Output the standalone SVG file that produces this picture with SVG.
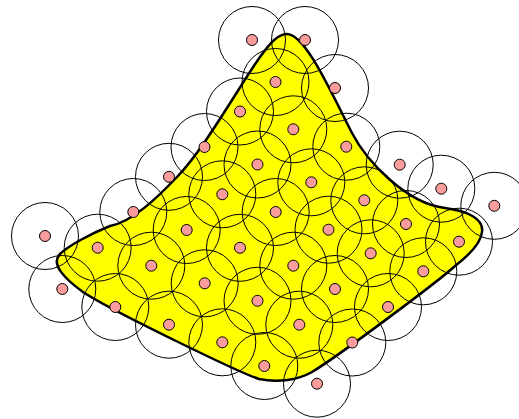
<svg xmlns="http://www.w3.org/2000/svg" width="519" height="419" viewBox="0 0 519 419">
<style>
.region{fill:#ffff00;stroke:#000;stroke-width:2.5;stroke-linejoin:round}
.c{fill:none;stroke:#000;stroke-width:1}
.d{fill:#fa9c9c;stroke:#000;stroke-width:1}
</style>
<rect width="519" height="419" fill="#fff"/>
<g id="region">
<path class="region" d="M287,34 C305,34 330,90 352,133 C366,160 405,203 445,208 C468,211 484,219 482,232 C481,244 468,256 455,266 C440,280 340,355 312,372 C298,380 278,383 259,379 C240,373 110,310 83,292 C65,279 50,264 60,254 C68,246 90,234 110,226 C132,222 157,198 177,177 C205,148 240,85 260,57 C270,43 278,34 287,34 Z"/>
</g>
<g id="connectors"></g>
<g id="circles">
<circle class="c" cx="252" cy="40" r="33.5"/>
<circle class="c" cx="305" cy="40" r="33.5"/>
<circle class="c" cx="275.5" cy="82" r="33.5"/>
<circle class="c" cx="335" cy="88" r="33.5"/>
<circle class="c" cx="240" cy="111.5" r="33.5"/>
<circle class="c" cx="293.3" cy="129.3" r="33.5"/>
<circle class="c" cx="204.5" cy="147" r="33.5"/>
<circle class="c" cx="257.5" cy="164.5" r="33.5"/>
<circle class="c" cx="346.3" cy="146.7" r="33.5"/>
<circle class="c" cx="169" cy="176.8" r="33.5"/>
<circle class="c" cx="222.3" cy="194.3" r="33.5"/>
<circle class="c" cx="311.3" cy="182.3" r="33.5"/>
<circle class="c" cx="399.7" cy="164.7" r="33.5"/>
<circle class="c" cx="441.3" cy="188.7" r="33.5"/>
<circle class="c" cx="133.3" cy="212" r="33.5"/>
<circle class="c" cx="186.7" cy="230" r="33.5"/>
<circle class="c" cx="275.7" cy="212" r="33.5"/>
<circle class="c" cx="364.3" cy="200.3" r="33.5"/>
<circle class="c" cx="494.3" cy="205.8" r="33.5"/>
<circle class="c" cx="45" cy="236" r="33.5"/>
<circle class="c" cx="97.7" cy="247.7" r="33.5"/>
<circle class="c" cx="151.3" cy="265.7" r="33.5"/>
<circle class="c" cx="240" cy="247.8" r="33.5"/>
<circle class="c" cx="328.5" cy="229.7" r="33.5"/>
<circle class="c" cx="406" cy="224" r="33.5"/>
<circle class="c" cx="459" cy="241.7" r="33.5"/>
<circle class="c" cx="62.3" cy="289" r="33.5"/>
<circle class="c" cx="204.7" cy="283.3" r="33.5"/>
<circle class="c" cx="293.3" cy="265.7" r="33.5"/>
<circle class="c" cx="370.7" cy="253.3" r="33.5"/>
<circle class="c" cx="115.3" cy="307" r="33.5"/>
<circle class="c" cx="257.5" cy="300.8" r="33.5"/>
<circle class="c" cx="423.3" cy="271.3" r="33.5"/>
<circle class="c" cx="169" cy="324.7" r="33.5"/>
<circle class="c" cx="335" cy="289" r="33.5"/>
<circle class="c" cx="222.3" cy="342.3" r="33.5"/>
<circle class="c" cx="299.3" cy="324.7" r="33.5"/>
<circle class="c" cx="388" cy="307" r="33.5"/>
<circle class="c" cx="264.3" cy="366" r="33.5"/>
<circle class="c" cx="352.3" cy="342.5" r="33.5"/>
<circle class="c" cx="317" cy="383.7" r="33.5"/>
</g>
<g id="dots">
<circle class="d" cx="252" cy="40" r="5.5"/>
<circle class="d" cx="305" cy="40" r="5.5"/>
<circle class="d" cx="275.5" cy="82" r="5.5"/>
<circle class="d" cx="335" cy="88" r="5.5"/>
<circle class="d" cx="240" cy="111.5" r="5.5"/>
<circle class="d" cx="293.3" cy="129.3" r="5.5"/>
<circle class="d" cx="204.5" cy="147" r="5.5"/>
<circle class="d" cx="257.5" cy="164.5" r="5.5"/>
<circle class="d" cx="346.3" cy="146.7" r="5.5"/>
<circle class="d" cx="169" cy="176.8" r="5.5"/>
<circle class="d" cx="222.3" cy="194.3" r="5.5"/>
<circle class="d" cx="311.3" cy="182.3" r="5.5"/>
<circle class="d" cx="399.7" cy="164.7" r="5.5"/>
<circle class="d" cx="441.3" cy="188.7" r="5.5"/>
<circle class="d" cx="133.3" cy="212" r="5.5"/>
<circle class="d" cx="186.7" cy="230" r="5.5"/>
<circle class="d" cx="275.7" cy="212" r="5.5"/>
<circle class="d" cx="364.3" cy="200.3" r="5.5"/>
<circle class="d" cx="494.3" cy="205.8" r="5.5"/>
<circle class="d" cx="45" cy="236" r="5.5"/>
<circle class="d" cx="97.7" cy="247.7" r="5.5"/>
<circle class="d" cx="151.3" cy="265.7" r="5.5"/>
<circle class="d" cx="240" cy="247.8" r="5.5"/>
<circle class="d" cx="328.5" cy="229.7" r="5.5"/>
<circle class="d" cx="406" cy="224" r="5.5"/>
<circle class="d" cx="459" cy="241.7" r="5.5"/>
<circle class="d" cx="62.3" cy="289" r="5.5"/>
<circle class="d" cx="204.7" cy="283.3" r="5.5"/>
<circle class="d" cx="293.3" cy="265.7" r="5.5"/>
<circle class="d" cx="370.7" cy="253.3" r="5.5"/>
<circle class="d" cx="115.3" cy="307" r="5.5"/>
<circle class="d" cx="257.5" cy="300.8" r="5.5"/>
<circle class="d" cx="423.3" cy="271.3" r="5.5"/>
<circle class="d" cx="169" cy="324.7" r="5.5"/>
<circle class="d" cx="335" cy="289" r="5.5"/>
<circle class="d" cx="222.3" cy="342.3" r="5.5"/>
<circle class="d" cx="299.3" cy="324.7" r="5.5"/>
<circle class="d" cx="388" cy="307" r="5.5"/>
<circle class="d" cx="264.3" cy="366" r="5.5"/>
<circle class="d" cx="352.3" cy="342.5" r="5.5"/>
<circle class="d" cx="317" cy="383.7" r="5.5"/>
</g>
</svg>
